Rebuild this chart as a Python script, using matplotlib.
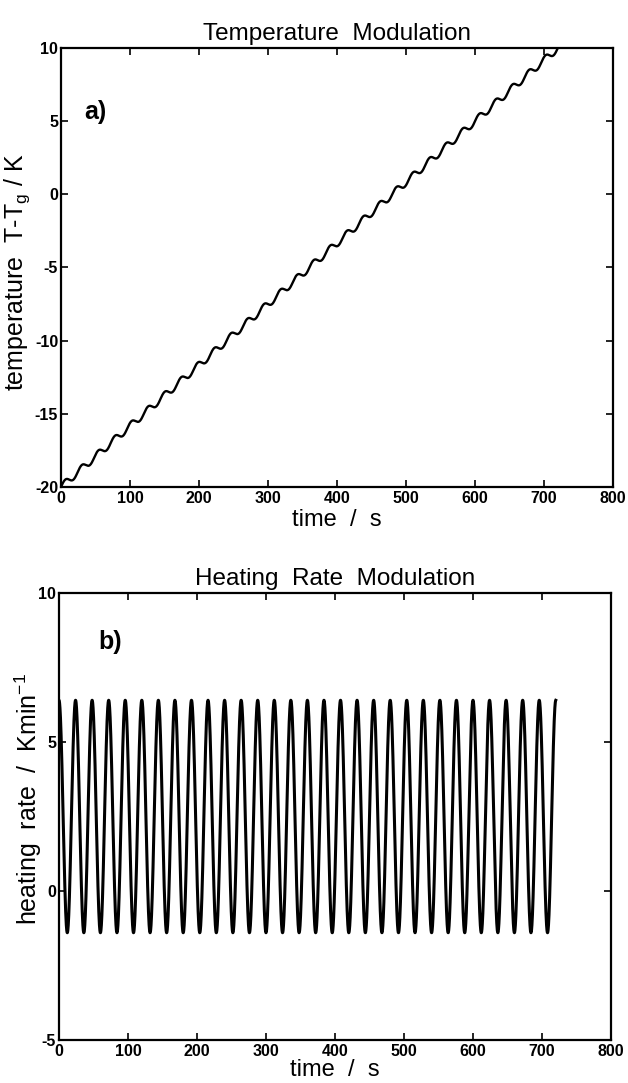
import numpy as np
import matplotlib
matplotlib.use("Agg")
import matplotlib.pyplot as plt

plt.rcParams['font.family'] = ['Liberation Sans', 'DejaVu Sans']
plt.rcParams['axes.unicode_minus'] = False

# ---- data ----
# heating-rate extremes (K/min): maxima every 24 s starting at t = 0, minima in between
rate_peak_times = [0, 24, 48, 72, 96, 120, 144, 168, 192, 216, 240, 264, 288, 312, 336,
                   360, 384, 408, 432, 456, 480, 504, 528, 552, 576, 600, 624, 648, 672,
                   696, 720, 744]
rate_trough_times = [12, 36, 60, 84, 108, 132, 156, 180, 204, 228, 252, 276, 300, 324, 348,
                     372, 396, 420, 444, 468, 492, 516, 540, 564, 588, 612, 636, 660, 684,
                     708, 732]
rate_max = 6.4      # K/min
rate_min = -1.4     # K/min
rate_end = 720      # s, last sample shown in panel b
temp_start = -20.0  # K  (T - Tg at t = 0)
temp_end = 732      # s, last sample shown in panel a

x_ticks = [0, 100, 200, 300, 400, 500, 600, 700, 800]
temp_ticks = [-20, -15, -10, -5, 0, 5, 10]
rate_ticks = [-5, 0, 5, 10]

# ---- build curves through the read extremes (half-cosine between extremes) ----
ext_t = np.array(sorted(rate_peak_times + rate_trough_times), dtype=float)
ext_v = np.array([rate_max if t in rate_peak_times else rate_min for t in ext_t])
t = np.linspace(0, ext_t[-1], 8000)
idx = np.clip(np.searchsorted(ext_t, t, side='right') - 1, 0, len(ext_t) - 2)
s = (t - ext_t[idx]) / (ext_t[idx + 1] - ext_t[idx])
rate = ext_v[idx] + (ext_v[idx + 1] - ext_v[idx]) * (1 - np.cos(np.pi * s)) / 2
# temperature = integral of heating rate (K/min -> K/s)
temp = temp_start + np.concatenate([[0], np.cumsum((rate[1:] + rate[:-1]) / 2 * np.diff(t))]) / 60.0

fig = plt.figure(figsize=(6.28, 10.83), dpi=100)
W, H = 628, 1083

def add_axes(l, r, top, bot):
    return fig.add_axes([l / W, 1 - bot / H, (r - l) / W, (bot - top) / H])

ax1 = add_axes(61, 613, 48, 487)
ax2 = add_axes(59, 611, 593, 1040)

m1 = t <= temp_end
ax1.plot(t[m1], temp[m1], color='black', lw=1.7)
m2 = t <= rate_end
ax2.plot(t[m2], rate[m2], color='black', lw=2.2)

for ax, yt, ylim in [(ax1, temp_ticks, (-20, 10)), (ax2, rate_ticks, (-5, 10))]:
    ax.set_xlim(0, 800)
    ax.set_ylim(*ylim)
    ax.set_xticks(x_ticks)
    ax.set_yticks(yt)
    ax.tick_params(direction='in', length=5, width=1.2, top=True, right=True,
                   labelsize=11.5, pad=3)
    ax.tick_params(axis='y', pad=2)
    for lab in ax.get_xticklabels() + ax.get_yticklabels():
        lab.set_fontweight('bold')
    for sp in ax.spines.values():
        sp.set_linewidth(1.6)

ax1.set_xlabel('time  /  s', fontsize=17, labelpad=2)
ax2.set_xlabel('time  /  s', fontsize=17, labelpad=0)
ax1.set_title('Temperature  Modulation', fontsize=17.5, pad=6)
ax2.set_title('Heating  Rate  Modulation', fontsize=17.5, pad=6)
ax1.set_ylabel('temperature  T-T$_\\mathregular{g}$ / K', fontsize=18)
ax2.set_ylabel('heating  rate  /  Kmin$^\\mathregular{-1}$', fontsize=18)
for ax, xpix, yfrac in [(ax1, -44, 0.49), (ax2, -31, 0.54)]:
    ax.yaxis.set_label_coords(xpix / 552.0, yfrac)
    ax.yaxis.label.set_verticalalignment('center')

ax1.text(0.062, 0.855, 'a)', transform=ax1.transAxes, fontsize=18, fontweight='bold',
         ha='center', va='center')
ax2.text(0.092, 0.89, 'b)', transform=ax2.transAxes, fontsize=18, fontweight='bold',
         ha='center', va='center')

fig.savefig('out.png', dpi=100)
